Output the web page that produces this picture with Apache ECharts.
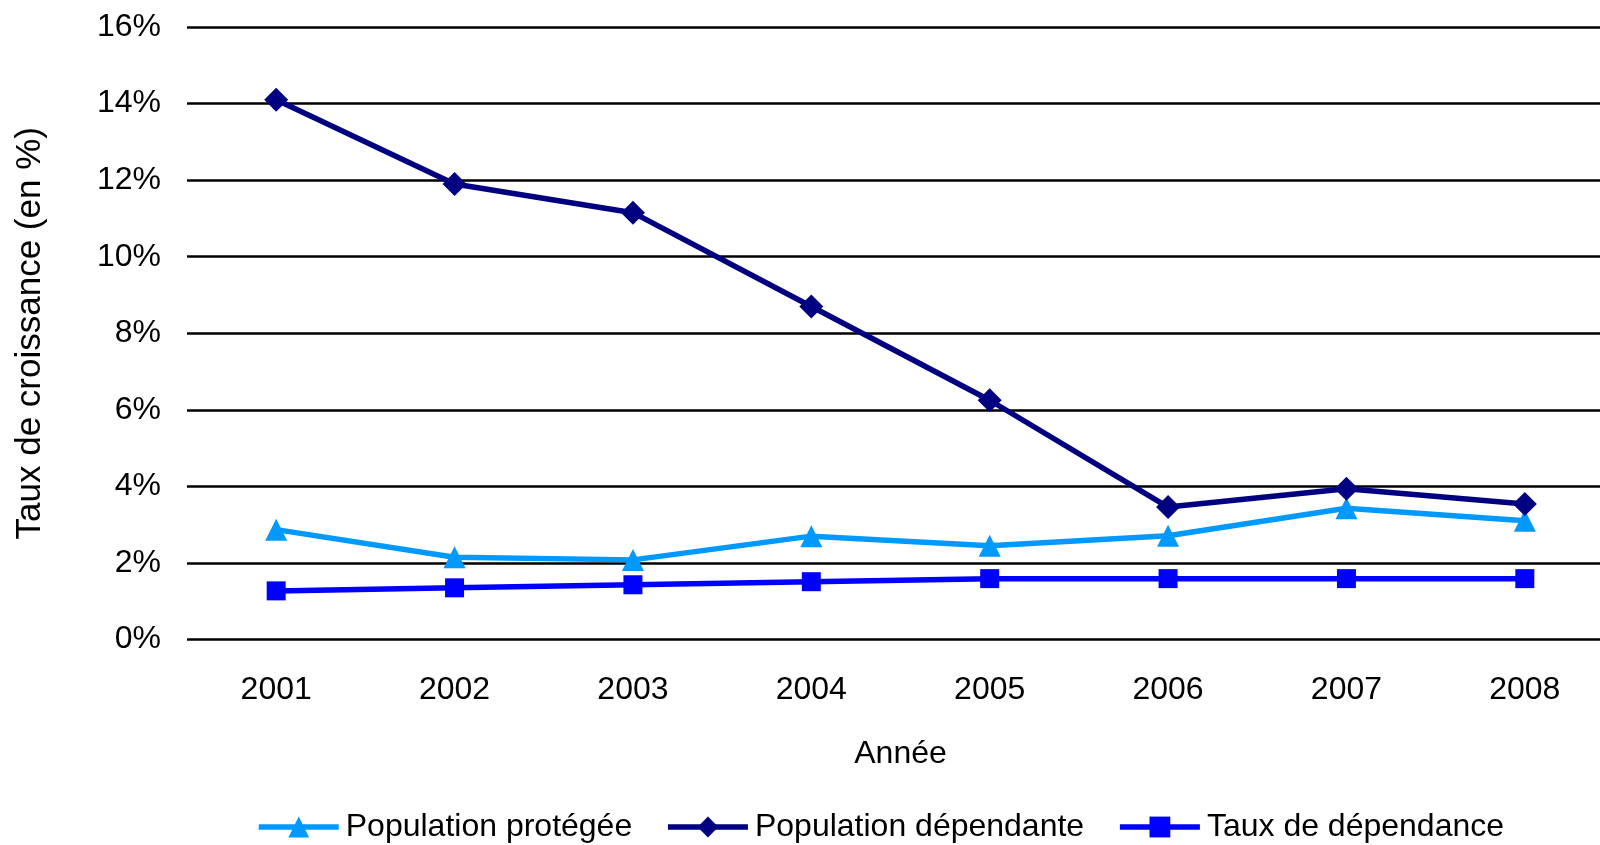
<!DOCTYPE html>
<html>
<head>
<meta charset="utf-8">
<script src="https://cdn.jsdelivr.net/npm/echarts@6/dist/echarts.min.js"></script>
<style>
html,body{margin:0;padding:0;background:#fff;}
#chart{width:1600px;height:845px;}
</style>
</head>
<body>
<div id="chart"></div>
<script>
var years = ['2001','2002','2003','2004','2005','2006','2007','2008'];
var populationProtegee = [2.87, 2.15, 2.08, 2.7, 2.45, 2.71, 3.43, 3.1];
var populationDependante = [14.1, 11.9, 11.15, 8.7, 6.25, 3.46, 3.94, 3.54];
var tauxDependance = [1.27, 1.35, 1.43, 1.51, 1.59, 1.59, 1.59, 1.59];
var seriesNames = ['Population protégée', 'Population dépendante', 'Taux de dépendance'];
var colors = ['#0099FF', '#000080', '#0000FF'];

var font = 'Liberation Sans, Arial, sans-serif';
var chart = echarts.init(document.getElementById('chart'), null, {renderer: 'canvas'});
chart.setOption({
  animation: false,
  backgroundColor: '#ffffff',
  textStyle: {fontFamily: font},
  grid: {left: 187, top: 27, width: 1427, bottom: 205.5, containLabel: false, outerBoundsMode: 'none'},
  legend: {
    top: 811,
    left: 256,
    padding: 0,
    itemWidth: 80,
    itemHeight: 26,
    itemGap: 33,
    lineStyle: {width: 5.5},
    textStyle: {fontSize: 32, color: '#000', fontFamily: font, padding: [0, 0, 0, 2]},
    data: seriesNames
  },
  xAxis: {
    type: 'category',
    data: years,
    boundaryGap: true,
    name: 'Année',
    nameLocation: 'middle',
    nameGap: 99,
    nameTextStyle: {fontSize: 32, color: '#000', fontFamily: font},
    axisLine: {show: false},
    axisTick: {show: false},
    axisLabel: {fontSize: 32, color: '#000', margin: 35, fontFamily: font}
  },
  yAxis: {
    type: 'value',
    min: 0,
    max: 16,
    interval: 2,
    name: 'Taux de croissance (en %)',
    nameLocation: 'middle',
    nameGap: 139,
    nameTextStyle: {fontSize: 35, color: '#000', fontFamily: font},
    axisLine: {show: false},
    axisTick: {show: false},
    axisLabel: {fontSize: 32, color: '#000', margin: 26, formatter: '{value}%', fontFamily: font},
    splitLine: {show: true, lineStyle: {color: '#000', width: 2.5}}
  },
  series: [
    {
      name: seriesNames[0], type: 'line', data: populationProtegee,
      symbol: 'triangle', symbolSize: 22,
      lineStyle: {width: 5.5, color: colors[0]},
      itemStyle: {color: colors[0]}, z: 3
    },
    {
      name: seriesNames[1], type: 'line', data: populationDependante,
      symbol: 'diamond', symbolSize: 24,
      lineStyle: {width: 5.5, color: colors[1]},
      itemStyle: {color: colors[1]}, z: 4
    },
    {
      name: seriesNames[2], type: 'line', data: tauxDependance,
      symbol: 'rect', symbolSize: 19,
      lineStyle: {width: 5.5, color: colors[2]},
      itemStyle: {color: colors[2]}, z: 2
    }
  ]
});
</script>
</body>
</html>
